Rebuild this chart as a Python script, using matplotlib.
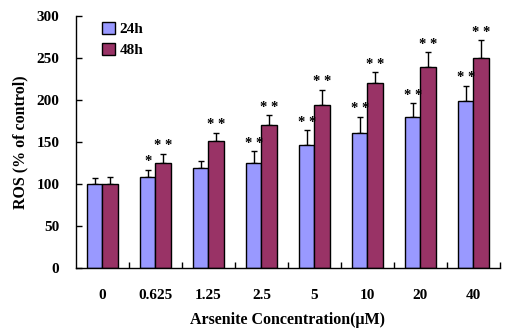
import matplotlib
matplotlib.use("Agg")
import matplotlib.pyplot as plt
import numpy as np
from matplotlib.patches import Patch

# Arsenite concentrations (µM) and ROS levels (% of control)
concentrations = ["0", "0.625", "1.25", "2.5", "5", "10", "20", "40"]
ros_24h = [100, 109, 119, 125, 146, 161, 180, 199]
ros_48h = [100, 125, 151, 170, 194, 220, 239, 250]
err_24h = [7, 8, 8, 14, 18, 19, 16, 18]
err_48h = [8, 11, 10, 12, 18, 13, 18, 21]
sig_24h = ["", "*", "", "* *", "* *", "* *", "* *", "* *"]
sig_48h = ["", "* *", "* *", "* *", "* *", "* *", "* *", "* *"]
series_labels = ["24h", "48h"]

plt.rcParams["font.family"] = ["Liberation Serif", "DejaVu Serif"]
plt.rcParams["font.weight"] = "bold"

fig = plt.figure(figsize=(5.17, 3.29), dpi=100)
ax = fig.add_axes([0.147, 0.185, 0.82, 0.766])

x = np.arange(len(concentrations))
w = 0.29
c24, c48 = "#9999FF", "#993366"

ax.bar(x - w / 2, ros_24h, w, color=c24, edgecolor="black", linewidth=1.0, zorder=2)
ax.bar(x + w / 2, ros_48h, w, color=c48, edgecolor="black", linewidth=1.0, zorder=2)

ekw = dict(fmt="none", ecolor="black", elinewidth=1.0, capsize=2.5, capthick=1.0, zorder=1)
ax.errorbar(x - w / 2, ros_24h, yerr=[np.zeros(len(x)), err_24h], **ekw)
ax.errorbar(x + w / 2, ros_48h, yerr=[np.zeros(len(x)), err_48h], **ekw)

for xi, v, e, s in zip(x - w / 2, ros_24h, err_24h, sig_24h):
    if s:
        ax.text(xi, v + e + 2, s, ha="center", va="bottom", fontsize=10.5, fontweight="bold")
for xi, v, e, s in zip(x + w / 2, ros_48h, err_48h, sig_48h):
    if s:
        ax.text(xi, v + e + 2, s, ha="center", va="bottom", fontsize=10.5, fontweight="bold")

ax.set_xlim(-0.5, len(x) - 0.5)
ax.set_ylim(0, 300)
ax.set_yticks(np.arange(0, 301, 50))
ax.set_xticks(x)
ax.set_xticklabels(concentrations)
ax.set_xticks(np.arange(0.5, len(x), 1.0), minor=True)
ax.tick_params(axis="x", which="major", length=0, pad=15, labelsize=11)
ax.tick_params(axis="x", which="minor", direction="in", length=4, width=1)
ax.tick_params(axis="y", direction="in", length=4, width=1, labelsize=11, pad=12)
for lab in ax.get_xticklabels() + ax.get_yticklabels():
    lab.set_fontweight("bold")

ax.spines["top"].set_visible(False)
ax.spines["right"].set_visible(False)
ax.spines["left"].set_linewidth(1.0)
ax.spines["bottom"].set_linewidth(1.0)

ax.set_ylabel("ROS (% of control)", fontsize=11.5, fontweight="bold", labelpad=6)
ax.set_xlabel("Arsenite Concentration(μM)", fontsize=11.5, fontweight="bold", labelpad=7)

handles = [Patch(facecolor=c24, edgecolor="black", linewidth=1.0),
           Patch(facecolor=c48, edgecolor="black", linewidth=1.0)]
ax.legend(handles, series_labels, loc="upper left", bbox_to_anchor=(0.03, 1.03),
          frameon=False, handlelength=0.8, handleheight=0.8, handletextpad=0.3,
          labelspacing=0.45, prop={"weight": "bold", "size": 11})

fig.savefig("out.png", dpi=100)
